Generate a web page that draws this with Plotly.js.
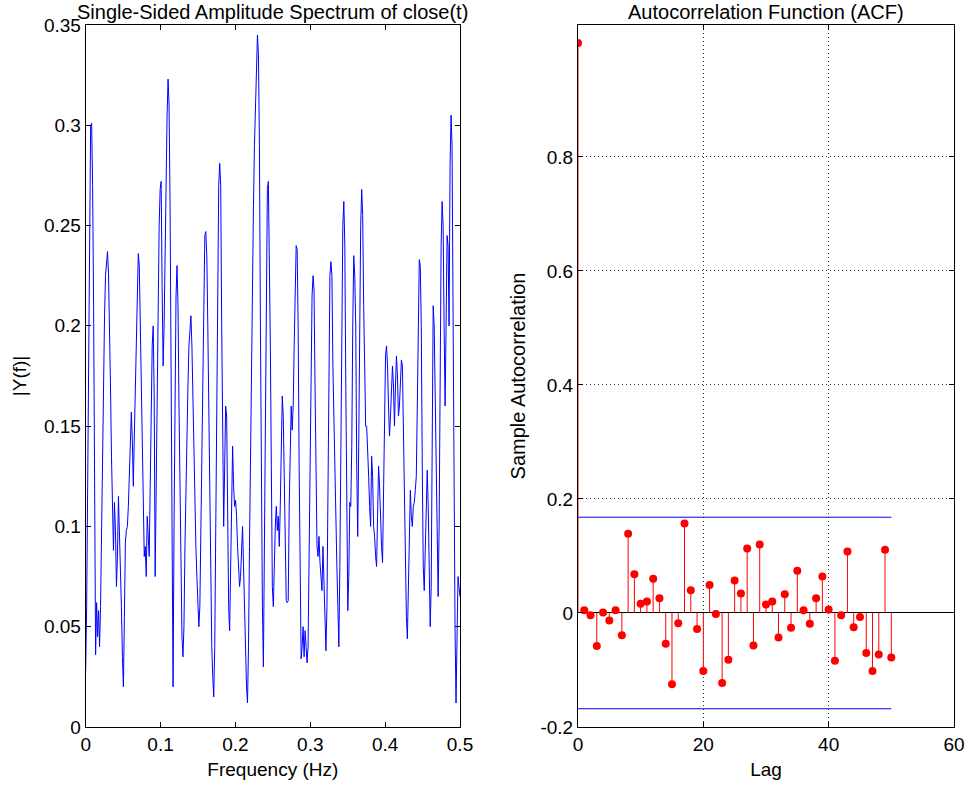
<!DOCTYPE html>
<html>
<head>
<meta charset="utf-8">
<script src="https://cdn.plot.ly/plotly-3.0.1.min.js"></script>
<style>
html,body{margin:0;padding:0;background:#fff;}
#chart{width:968px;height:785px;}
</style>
</head>
<body>
<div id="chart"></div>
<script>
// Single-sided amplitude spectrum |Y(f)|, evenly spaced bins from 0 to 0.5 Hz
const spectrumAmp = [
0.028,0.06,0.12,0.2,0.27,0.30,0.301,0.27,0.21,0.12,
0.036,0.062,0.045,0.058,0.04,0.06,0.1,0.14,0.18,0.205,
0.225,0.233,0.237,0.226,0.205,0.17,0.135,0.105,0.088,0.112,
0.098,0.07,0.085,0.115,0.1,0.085,0.06,0.035,0.02,0.055,
0.092,0.098,0.1,0.11,0.125,0.14,0.157,0.143,0.12,0.145,
0.17,0.2,0.225,0.236,0.23,0.2,0.165,0.13,0.1,0.085,
0.09,0.075,0.105,0.09,0.085,0.12,0.16,0.19,0.2,0.165,
0.075,0.12,0.17,0.215,0.25,0.268,0.272,0.22,0.18,0.2,
0.24,0.27,0.305,0.323,0.31,0.26,0.17,0.08,0.02,0.1,
0.17,0.215,0.23,0.21,0.16,0.11,0.07,0.045,0.035,0.05,
0.09,0.125,0.15,0.17,0.19,0.2,0.205,0.19,0.16,0.13,
0.11,0.09,0.075,0.06,0.05,0.06,0.1,0.14,0.19,0.225,
0.245,0.247,0.235,0.2,0.16,0.11,0.07,0.04,0.025,0.015,
0.04,0.1,0.17,0.23,0.27,0.281,0.27,0.2,0.12,0.1,
0.13,0.16,0.155,0.1,0.06,0.048,0.08,0.13,0.14,0.12,
0.11,0.113,0.105,0.09,0.08,0.07,0.075,0.095,0.1,0.08,
0.06,0.035,0.02,0.012,0.04,0.09,0.14,0.19,0.23,0.26,
0.29,0.31,0.33,0.345,0.335,0.29,0.2,0.12,0.06,0.03,
0.1,0.18,0.24,0.268,0.272,0.24,0.19,0.13,0.07,0.06,
0.085,0.1,0.11,0.098,0.105,0.09,0.11,0.14,0.165,0.155,
0.12,0.08,0.063,0.062,0.063,0.11,0.15,0.16,0.148,0.16,
0.19,0.225,0.24,0.238,0.2,0.13,0.06,0.034,0.04,0.05,
0.035,0.048,0.04,0.032,0.04,0.09,0.15,0.2,0.215,0.225,
0.218,0.17,0.12,0.09,0.085,0.095,0.082,0.075,0.068,0.09,
0.07,0.05,0.038,0.06,0.13,0.2,0.225,0.232,0.225,0.18,
0.15,0.12,0.1,0.08,0.06,0.04,0.08,0.15,0.22,0.25,
0.262,0.24,0.17,0.1,0.058,0.075,0.112,0.11,0.14,0.2,
0.235,0.225,0.2,0.13,0.095,0.14,0.2,0.25,0.268,0.255,
0.21,0.17,0.15,0.15,0.14,0.125,0.11,0.1,0.135,0.125,
0.1,0.095,0.085,0.08,0.105,0.13,0.12,0.1,0.09,0.082,
0.12,0.16,0.185,0.19,0.18,0.16,0.145,0.155,0.175,0.18,
0.17,0.15,0.17,0.185,0.175,0.155,0.16,0.175,0.183,0.18,
0.15,0.11,0.08,0.055,0.044,0.07,0.105,0.118,0.105,0.1,
0.11,0.112,0.118,0.125,0.16,0.21,0.233,0.23,0.2,0.13,
0.08,0.068,0.09,0.12,0.128,0.11,0.08,0.05,0.07,0.15,
0.21,0.2,0.16,0.12,0.08,0.065,0.1,0.18,0.24,0.262,
0.25,0.2,0.16,0.2,0.245,0.24,0.2,0.28,0.305,0.29,
0.2,0.12,0.05,0.012,0.04,0.075,0.07,0.065
];
const nyquist = 0.5;

// Sample autocorrelation, lags 0..50
const acfLags = [0,1,2,3,4,5,6,7,8,9,10,11,12,13,14,15,16,17,18,19,20,21,22,23,24,25,26,27,28,29,30,31,32,33,34,35,36,37,38,39,40,41,42,43,44,45,46,47,48,49,50];
const acfValues = [1.0,0.005,-0.004,-0.058,0.001,-0.013,0.005,-0.039,0.139,0.068,0.016,0.020,0.060,0.026,-0.054,-0.125,-0.018,0.157,0.040,-0.028,-0.102,0.049,-0.002,-0.123,-0.082,0.057,0.034,0.113,-0.057,0.120,0.015,0.020,-0.043,0.033,-0.026,0.074,0.005,-0.019,0.026,0.064,0.006,-0.084,-0.004,0.108,-0.025,-0.007,-0.070,-0.102,-0.073,0.111,-0.078];
const confBound = 0.168;
const boundLags = [0, 50];

const leftTicks = [0,0.1,0.2,0.3,0.4,0.5];
const leftYTicks = [0,0.05,0.1,0.15,0.2,0.25,0.3,0.35];
const rightXTicks = [0,20,40,60];
const rightYTicks = [-0.2,0,0.2,0.4,0.6,0.8];

const freq = spectrumAmp.map((_, i) => i * nyquist / (spectrumAmp.length - 1));

const stemX = [], stemY = [];
acfLags.forEach((l, i) => { stemX.push(l, l, null); stemY.push(0, acfValues[i], null); });

const FONT = 'Liberation Sans, Arial, Helvetica, sans-serif';
const TICK = 19, LABEL = 19, TITLE = 20;

const traces = [
  {x: freq, y: spectrumAmp, type: 'scatter', mode: 'lines',
   line: {color: 'rgb(0,0,255)', width: 1}, xaxis: 'x', yaxis: 'y', hoverinfo: 'skip'},
  {x: stemX, y: stemY, type: 'scatter', mode: 'lines',
   line: {color: 'rgb(255,0,0)', width: 1}, xaxis: 'x2', yaxis: 'y2', hoverinfo: 'skip'},
  {x: acfLags, y: acfValues, type: 'scatter', mode: 'markers',
   marker: {color: 'rgb(255,0,0)', size: 8, line: {width: 0}}, xaxis: 'x2', yaxis: 'y2'},
  {x: boundLags, y: boundLags.map(() => confBound), type: 'scatter', mode: 'lines',
   line: {color: 'rgb(0,0,255)', width: 1}, xaxis: 'x2', yaxis: 'y2'},
  {x: boundLags, y: boundLags.map(() => -confBound), type: 'scatter', mode: 'lines',
   line: {color: 'rgb(0,0,255)', width: 1}, xaxis: 'x2', yaxis: 'y2'}
];

const axisCommon = {
  showline: true, mirror: 'ticks', linecolor: '#000', linewidth: 1,
  ticks: 'inside', ticklen: 5, tickcolor: '#000', tickwidth: 1,
  tickfont: {family: FONT, size: TICK, color: '#000'},
  automargin: false, layer: 'above traces'
};

const layout = {
  width: 968, height: 785,
  margin: {l: 0, r: 0, t: 0, b: 0},
  paper_bgcolor: '#fff', plot_bgcolor: '#fff',
  showlegend: false,
  font: {family: FONT, size: LABEL, color: '#000'},
  xaxis: Object.assign({}, axisCommon, {
    domain: [0.0885, 0.4752], anchor: 'y', range: [0, 0.5],
    tickvals: leftTicks, ticktext: leftTicks.map(String),
    showgrid: false, zeroline: false,
    title: {text: 'Frequency (Hz)', font: {family: FONT, size: LABEL, color: '#000'}, standoff: 8}
  }),
  yaxis: Object.assign({}, axisCommon, {
    domain: [0.0739, 0.9682], anchor: 'x', range: [0, 0.35],
    tickvals: leftYTicks, ticktext: leftYTicks.map(String),
    showgrid: false, zeroline: false,
    title: {text: '|Y(f)|', font: {family: FONT, size: LABEL, color: '#000'}, standoff: 12}
  }),
  xaxis2: Object.assign({}, axisCommon, {
    domain: [0.5971, 0.9855], anchor: 'y2', range: [0, 60],
    tickvals: rightXTicks, ticktext: rightXTicks.map(String),
    showgrid: true, gridcolor: 'rgba(0,0,0,0.8)', griddash: '1px,3px', gridwidth: 1,
    zeroline: false,
    title: {text: 'Lag', font: {family: FONT, size: LABEL, color: '#000'}, standoff: 8}
  }),
  yaxis2: Object.assign({}, axisCommon, {
    domain: [0.0739, 0.9682], anchor: 'x2', range: [-0.2, 1.0316],
    tickvals: rightYTicks, ticktext: rightYTicks.map(String),
    showgrid: true, gridcolor: 'rgba(0,0,0,0.8)', griddash: '1px,3px', gridwidth: 1,
    zeroline: true, zerolinecolor: '#000', zerolinewidth: 1,
    title: {text: 'Sample Autocorrelation', font: {family: FONT, size: TITLE, color: '#000'}, standoff: 9}
  }),
  annotations: [
    {text: 'Single-Sided Amplitude Spectrum of close(t)', xref: 'x domain', x: 0.5, yref: 'paper', y: 1 - 12/785,
     xanchor: 'center', yanchor: 'middle', showarrow: false, font: {family: FONT, size: TITLE, color: '#000'}},
    {text: 'Autocorrelation Function (ACF)', xref: 'x2 domain', x: 0.5, yref: 'paper', y: 1 - 12/785,
     xanchor: 'center', yanchor: 'middle', showarrow: false, font: {family: FONT, size: TITLE, color: '#000'}}
  ]
};

Plotly.newPlot('chart', traces, layout, {staticPlot: true, displayModeBar: false});
</script>
</body>
</html>
